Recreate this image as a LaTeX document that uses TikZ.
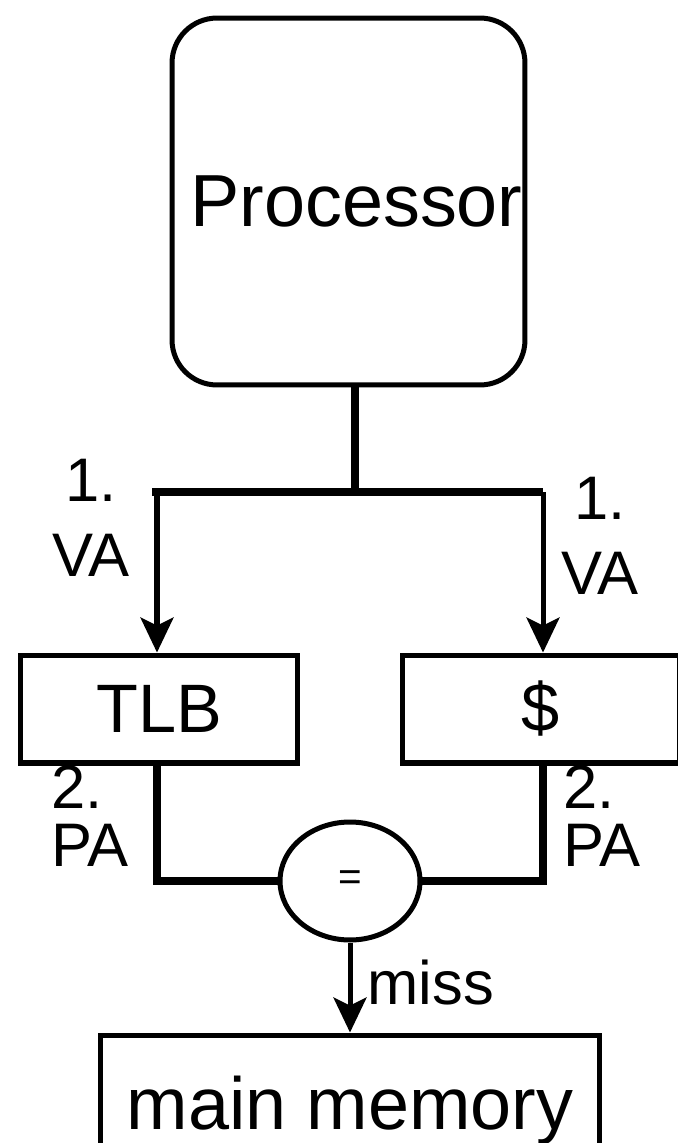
\documentclass[tikz,border=0pt]{standalone}
\usepackage{fontspec}
\setmainfont{Liberation Sans}
\usetikzlibrary{arrows.meta,shapes.geometric}

\tikzset{
    unit/.style={draw, line width=2.85pt, inner sep=0pt},
    bus/.style={line width=4.5pt},
    feed/.style={line width=2.85pt, -{Stealth[length=0.7cm, width=0.66cm, inset=0.16cm]}},
    tag/.style={inner sep=0pt, font=\fontsize{35}{43}\selectfont},
}

\begin{document}
\begin{tikzpicture}[x=0.02cm, y=-0.02cm]
        \useasboundingbox (0,0) rectangle (678,1143);

        % Processor
        \node[unit, rounded corners=0.9cm, minimum width=7.06cm, minimum height=7.34cm] (proc) at (348.5,201.5) {};
        \node[font=\fontsize{42}{42}\selectfont] at ([xshift=0.16cm]proc.center) {Processor};

        % TLB and cache
        \node[unit, minimum width=5.56cm, minimum height=2.16cm,
              font=\fontsize{39}{39}\selectfont] (tlb) at (159,709) {TLB};
        \node[unit, minimum width=5.56cm, minimum height=2.16cm,
              font=\fontsize{39}{39}\selectfont] (cache) at (541,709) {\$};

        % Comparator
        \node[draw, ellipse, line width=2.85pt, inner sep=0pt, minimum width=2.8cm,
              minimum height=2.36cm, font=\fontsize{23}{23}\selectfont] (cmp) at (350,881) {=};

        % Main memory
        \node[unit, minimum width=10cm, minimum height=3cm,
              font=\fontsize{42}{42}\selectfont] (mem) at (350,1110) {main memory};

        % Virtual address to TLB and cache
        \coordinate (fork) at (355,492);
        \coordinate (lfork) at (157,492);
        \coordinate (rfork) at (543,492);
        \draw[bus] (proc.south -| fork) -- (fork);
        \draw[bus] (152,492) -- (rfork);
        \draw[feed] (lfork) -- (lfork |- tlb.north);
        \draw[feed] (rfork) -- (rfork |- cache.north);

        % Physical addresses to the comparator
        \draw[bus] (lfork |- tlb.south) -- (lfork |- cmp) -- (cmp.west);
        \draw[bus] (rfork |- cache.south) -- (rfork |- cmp) -- (cmp.east);

        % Miss goes to memory
        \draw[feed] (cmp.south) -- node[tag, right=0.3cm, yshift=0.1cm] (miss) {miss} (mem.north);

        % Step labels
        \node[tag, align=center] (lva) at (91,518) {1.\\VA};
        \node[tag, align=center] (rva) at (600,536) {1.\\VA};
        \node[tag, align=left, font=\fontsize{35}{33}\selectfont] (lpa) at (90,816) {2.\\PA};
        \node[tag, align=left, font=\fontsize{35}{33}\selectfont] (rpa) at (602,816) {2.\\PA};
\end{tikzpicture}
\end{document}
